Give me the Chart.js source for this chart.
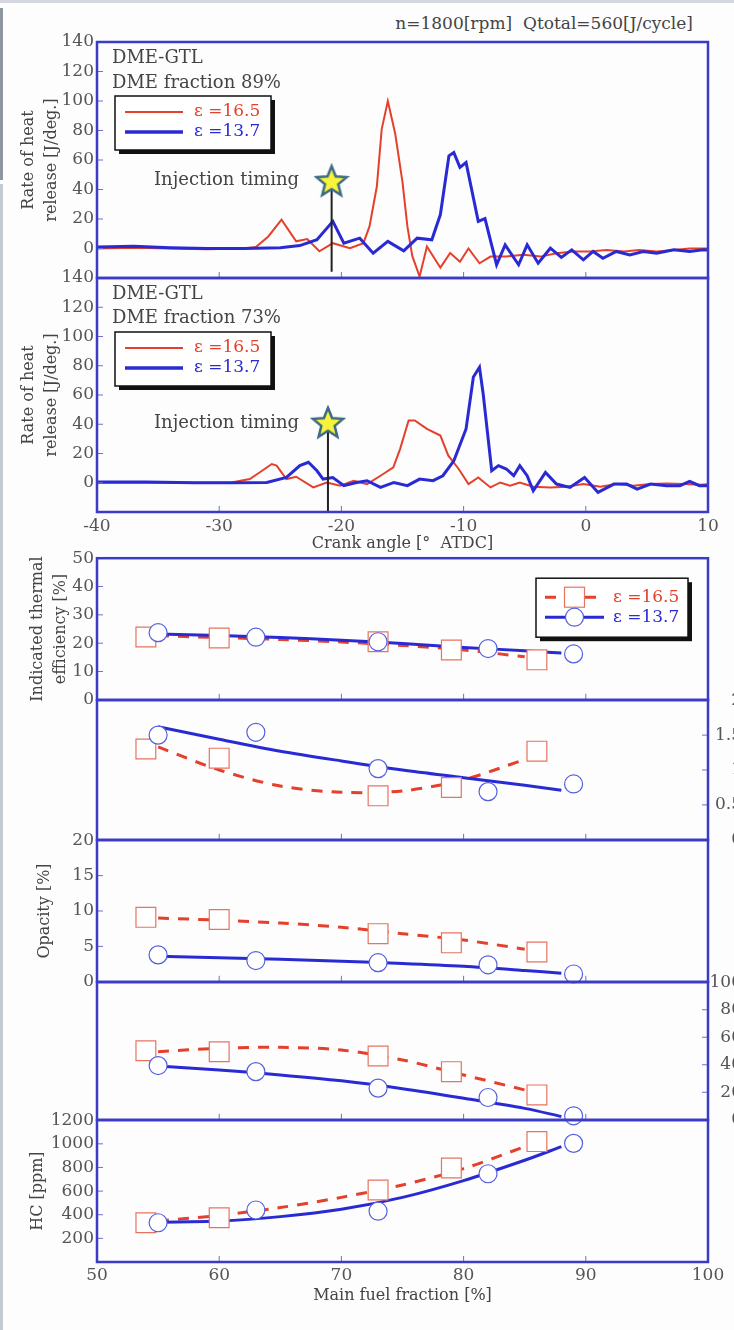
<!DOCTYPE html>
<html>
<head>
<meta charset="utf-8">
<title>DME-GTL heat release and emissions</title>
<script src="https://cdn.jsdelivr.net/npm/chart.js@4.4.1/dist/chart.umd.min.js"></script>
<style>
  html, body { margin: 0; padding: 0; }
  body { width: 734px; height: 1330px; overflow: hidden; position: relative; background: #fdfdfd; font-family: 'DejaVu Serif', serif; }
  canvas { position: absolute; left: 0; }
  #head { position: absolute; top: 13px; right: 41px; font-size: 17px; color: #444; white-space: pre; }
  .edge { position: absolute; left: 0; width: 3px; }
</style>
</head>
<body>
<div class="edge" style="top:8px;height:172px;background:#8e979f"></div>
<div class="edge" style="top:184px;height:1146px;background:#c3cad1"></div>
<div style="position:absolute;left:0;top:0;width:734px;height:3px;background:#d3d9df"></div>
<div id="head">n=1800[rpm]  Qtotal=560[J/cycle]</div>

<script>
// heat release, DME fraction 89 %
const crank89Red = [-40,-37,-34,-31,-28,-27,-26,-24.9,-23.7,-22.8,-21.8,-20.7,-19.3,-18.2,-17.7,-17.1,-16.7,-16.2,-15.6,-15.0,-14.6,-14.2,-13.6,-13.0,-11.9,-11.1,-10.3,-9.6,-8.7,-7.8,-6.5,-5.1,-3.7,-2.4,-1.0,0.3,1.7,3.1,4.4,5.8,7.2,8.5,10];
const hrr89Red   = [0,0.5,0,-0.5,0,1,8,19.6,4.9,6.4,-1.9,3.6,0.2,3.6,15,42,81,100,78,45,15,-5,-19,1.4,-13,-3,-9,0,-10,-5.5,-5.5,-4.3,-5.5,-3.2,-2,-2,-1,-2,-1,-2,-1,0,0];
const crank89Blue = [-40,-37,-34,-31,-28,-25,-23.4,-22,-20.7,-19.8,-18.5,-17.4,-16.2,-14.9,-13.8,-12.6,-11.9,-11.2,-10.8,-10.3,-9.8,-8.8,-8.25,-7.3,-6.6,-5.5,-4.8,-3.9,-2.9,-2.0,-1.15,-0.2,0.6,1.4,2.5,3.6,4.7,5.8,7.2,8.5,9.6,10];
const hrr89Blue   = [1,1.5,0.5,0,0,0.5,2,6,18.4,3.6,7,-3.2,4.8,-1.6,7,5.9,23,62.8,65,55,58.3,18.4,20.3,-11,2.5,-11,2.5,-10,0.2,-6,-0.9,-7.7,-2,-6.6,-2,-4.3,-2,-3.2,-0.9,-2,-0.9,-1];

// heat release, DME fraction 73 %
const crank73Red = [-40,-36,-32,-29,-27.5,-26.7,-25.7,-25.3,-24.5,-23.7,-22.3,-21.2,-20.1,-19.0,-17.9,-16.8,-15.75,-15.2,-14.5,-14.0,-13.0,-11.9,-11.25,-10.4,-9.6,-8.8,-7.8,-7.0,-6.2,-5.4,-4.3,-2.9,-1.6,-0.2,1.2,2.5,3.9,5.3,6.6,8.0,9.3,10];
const hrr73Red   = [0,0,0,0.2,2.5,7,12.8,11.7,2.5,4.1,-3.2,0.2,-2,1.4,-0.9,4.8,10.5,23,42.6,42.6,36.8,32.3,18.5,9.4,-0.9,3.6,-3.2,0.2,-2,0.2,-2.7,-3.2,-2.7,-0.9,-2.7,-0.9,-2,-0.9,-0.5,-0.9,-1.4,-1];
const crank73Blue = [-40,-36,-32,-29,-26.1,-24.5,-23.4,-22.7,-22.0,-21.5,-20.7,-19.8,-18.75,-17.9,-16.8,-15.7,-14.6,-13.6,-12.5,-11.7,-10.8,-9.8,-9.2,-8.7,-8.4,-7.7,-7.15,-6.5,-5.9,-5.4,-4.8,-4.3,-3.3,-2.4,-1.3,-0.1,1.0,2.3,3.35,4.2,5.3,6.6,7.7,8.5,9.3,10];
const hrr73Blue   = [0.5,0.5,0,0,0.2,3.6,11.7,14,8.2,2.5,3.6,-2,0.2,1.4,-3.2,0.2,-2,2.5,1.4,4.8,15,36.8,72.3,79,60.9,8.2,11.7,9.4,4.8,11.7,4.8,-5.5,7,-0.9,-3.2,3.6,-6.6,-0.9,-0.9,-4.3,-0.9,-2,-2,0.9,-2,-2];

// injection timing marks [crank angle, star height, foot of line]
const injection89 = [-20.8, 45.7, -15.7];
const injection73 = [-21.1, 41, -20];

const crankTicks = [-30, -20, -10, 0];
const fuelTicks = [60, 70, 80, 90];

// main fuel fraction sweep, measured points
const fuelRed  = [54, 60, 73, 79, 86];
const fuelBlue = [55, 63, 73, 82, 89];
const effRed   = [22.2, 21.8, 20.5, 17.6, 14.1];
const effBlue  = [23.7, 22.1, 20.5, 18.1, 16.2];
const rightARed  = [1.30, 1.17, 0.63, 0.75, 1.27];
const rightABlue = [1.50, 1.54, 1.02, 0.69, 0.80];
const opacityRed  = [9.1, 8.8, 6.8, 5.5, 4.2];
const opacityBlue = [3.8, 3.0, 2.7, 2.4, 1.1];
const rightBRed  = [50.2, 49.5, 46.4, 35.0, 18.1];
const rightBBlue = [39.4, 35.0, 23.0, 16.2, 2.9];
const hcRed  = [332, 375, 609, 796, 1019];
const hcBlue = [332, 440, 430, 747, 1004];

// trend curves
const fitXRed  = [55, 60, 65, 70, 75, 80, 85];
const fitXBlue = [55, 60, 65, 70, 75, 80, 85, 88];
const effFitRed   = [22.6, 22.0, 21.3, 20.4, 19.2, 17.6, 15.2];
const effFitBlue  = [23.2, 22.7, 22.0, 21.0, 19.9, 18.5, 17.3, 16.5];
const rightAFitRed  = [1.33, 1.00, 0.77, 0.68, 0.70, 0.86, 1.15];
const rightAFitBlue = [1.62, 1.44, 1.27, 1.13, 1.00, 0.89, 0.78, 0.71];
const opacityFitRed  = [9.0, 8.7, 8.3, 7.7, 6.8, 5.9, 4.6];
const opacityFitBlue = [3.6, 3.4, 3.2, 2.9, 2.6, 2.2, 1.6, 1.2];
const rightBFitRed  = [49.5, 52, 52.7, 50.7, 43.5, 32.6, 21.7];
const rightBFitBlue = [39.1, 36.2, 32.6, 28.3, 22.6, 15.7, 8.3, 2.4];
const hcFitRed  = [346, 395, 461, 547, 652, 790, 976];
const hcFitBlue = [337, 346, 384, 446, 547, 689, 861, 976];

const RED = '#e4402b', BLUE = '#2a2ad4', FRAME = '#3b3bc6', TXT = '#444';
const MARK_RED = '#e8735f', MARK_BLUE = '#5560de';
const SERIF = "'DejaVu Serif', serif";
const EPS_RED = 'ε =16.5', EPS_BLUE = 'ε =13.7';

Chart.defaults.font.family = SERIF;

const pts = (xs, ys) => xs.map((x, i) => ({ x: x, y: ys[i] }));

function starImage() {
  const c = document.createElement('canvas');
  c.width = 36; c.height = 36;
  const g = c.getContext('2d');
  g.beginPath();
  for (let i = 0; i < 10; i++) {
    const r = i % 2 ? 7 : 16, a = -Math.PI / 2 + i * Math.PI / 5;
    g.lineTo(18 + r * Math.cos(a), 19 + r * Math.sin(a));
  }
  g.closePath();
  g.fillStyle = '#f7f23a';
  g.fill();
  g.lineWidth = 2.5;
  g.strokeStyle = '#3d6b86';
  g.stroke();
  return c;
}
const star = starImage();

function drawMarker(ctx, kind, x, y) {
  ctx.setLineDash([]);
  ctx.lineWidth = 1.2;
  ctx.fillStyle = '#fff';
  if (kind === 'rect') {
    ctx.strokeStyle = MARK_RED;
    ctx.fillRect(x - 10, y - 10, 20, 20);
    ctx.strokeRect(x - 10, y - 10, 20, 20);
  } else {
    ctx.strokeStyle = MARK_BLUE;
    ctx.beginPath();
    ctx.arc(x, y, 9, 0, Math.PI * 2);
    ctx.fill();
    ctx.stroke();
  }
}

// frame, inward ticks, notes and legend boxes
const deco = {
  id: 'deco',
  afterDatasetsDraw(chart, args, o) {
    const ctx = chart.ctx, a = chart.chartArea, top = chart.$pageTop || 0;
    const xs = chart.scales.x, ys = chart.scales.y;
    ctx.save();
    ctx.lineWidth = 1;
    ctx.strokeStyle = '#6f6fd2';
    ctx.beginPath();
    (o.xTicks || []).forEach(v => {
      const p = xs.getPixelForValue(v);
      ctx.moveTo(p, a.bottom);
      ctx.lineTo(p, a.bottom - 6);
    });
    ys.ticks.forEach(t => {
      const p = ys.getPixelForValue(t.value);
      if (p <= a.top + 1 || p >= a.bottom - 1) return;
      if (ys.position === 'right') { ctx.moveTo(a.right, p); ctx.lineTo(a.right - 6, p); }
      else { ctx.moveTo(a.left, p); ctx.lineTo(a.left + 6, p); }
    });
    ctx.stroke();

    ctx.strokeStyle = FRAME;
    ctx.lineWidth = 2.5;
    ctx.strokeRect(a.left, a.top, a.right - a.left, a.bottom - a.top);

    ctx.textBaseline = 'middle';
    ctx.textAlign = 'left';
    (o.notes || []).forEach(n => {
      ctx.fillStyle = TXT;
      ctx.font = '18px ' + SERIF;
      ctx.fillText(n.text, n.x, n.y - top);
    });

    const b = o.box;
    if (b) {
      const y0 = b.y - top;
      ctx.fillStyle = '#111';
      ctx.fillRect(b.x + 4, y0 + 4, b.w, b.h);
      ctx.fillStyle = '#fff';
      ctx.fillRect(b.x, y0, b.w, b.h);
      ctx.strokeStyle = '#111';
      ctx.lineWidth = 1.5;
      ctx.strokeRect(b.x, y0, b.w, b.h);
      b.rows.forEach(r => {
        const ry = r.y - top;
        ctx.strokeStyle = r.color;
        ctx.lineWidth = r.width;
        ctx.setLineDash(r.dash || []);
        ctx.beginPath();
        ctx.moveTo(b.lineX[0], ry);
        ctx.lineTo(b.lineX[1], ry);
        ctx.stroke();
        if (r.marker) drawMarker(ctx, r.marker, (b.lineX[0] + b.lineX[1]) / 2, ry);
        ctx.setLineDash([]);
        ctx.fillStyle = r.color;
        ctx.font = '17px ' + SERIF;
        ctx.fillText(r.label, b.textX, ry);
      });
    }
    ctx.restore();
  }
};
Chart.register(deco);

function finish(config) {
  config.options.responsive = false;
  config.options.animation = false;
  config.options.devicePixelRatio = 1;
  config.options.plugins.legend = { display: false };
  config.options.plugins.tooltip = { enabled: false };
  return config;
}

// build once to measure the insets, then size the canvas so the plot box
// lands on plotTop..plotBottom of the page
function makePanel(plotTop, plotBottom, build) {
  const probe = document.createElement('canvas');
  probe.width = 760;
  probe.height = plotBottom - plotTop + 100;
  probe.style.visibility = 'hidden';
  document.body.appendChild(probe);
  const tmp = new Chart(probe, finish(build()));
  const t0 = tmp.chartArea.top, b0 = probe.height - tmp.chartArea.bottom;
  tmp.destroy();
  probe.remove();

  const cv = document.createElement('canvas');
  cv.width = 760;
  cv.height = Math.round(t0 + (plotBottom - plotTop) + b0);
  cv.style.top = (plotTop - t0) + 'px';
  document.body.appendChild(cv);
  const chart = new Chart(cv, finish(build()));
  chart.$pageTop = plotTop - t0;
  chart.draw();
  return chart;
}

const tickFont = { family: SERIF, size: 17 };

function leftAxis(min, max, step, title, titlePad, hideBelow) {
  return {
    position: 'left', min: min, max: max,
    grid: { display: false, drawTicks: false }, border: { display: false },
    ticks: { stepSize: step, color: '#555', font: tickFont, padding: 3,
      callback: v => (hideBelow !== undefined && v <= hideBelow) ? '' : String(v) },
    title: { display: true, text: title, color: TXT,
      font: { family: SERIF, size: 16, lineHeight: 1.45 }, padding: { top: titlePad } },
    afterFit: s => { s.width = 97; }
  };
}

// right axis labels are right-aligned at x = 742, so the page edge clips them
function rightAxis(min, max, step) {
  return {
    position: 'right', min: min, max: max,
    grid: { display: false, drawTicks: false }, border: { display: false },
    ticks: { stepSize: step, color: '#555', font: tickFont, padding: 4, crossAlign: 'far',
      autoSkip: false, callback: v => String(v) },
    afterFit: s => { s.width = 34; }
  };
}

function xAxis(min, max, shown, title, pad, height) {
  const ax = {
    type: 'linear', min: min, max: max, display: shown,
    grid: { display: false, drawTicks: false }, border: { display: false },
    ticks: { stepSize: 10, color: '#555', font: tickFont, padding: pad, maxRotation: 0 }
  };
  if (shown) {
    ax.title = { display: true, text: title, color: TXT, font: { family: SERIF, size: 16 }, padding: 0 };
    ax.afterFit = s => { s.height = height; };
  }
  return ax;
}

function hrrDatasets(cr, hr, cb, hb, inj) {
  return [
    { data: [{ x: inj[0], y: inj[1] }], showLine: false, pointStyle: star, pointRadius: 16, order: 0 },
    { data: [{ x: inj[0], y: inj[1] }, { x: inj[0], y: inj[2] }], borderColor: '#222', borderWidth: 2, pointRadius: 0, order: 1 },
    { label: EPS_RED, data: pts(cr, hr), borderColor: RED, borderWidth: 2, pointRadius: 0, tension: 0, order: 3 },
    { label: EPS_BLUE, data: pts(cb, hb), borderColor: BLUE, borderWidth: 3, pointRadius: 0, tension: 0, order: 2 }
  ];
}

function hrrBox(y) {
  return {
    x: 115, y: y, w: 156, h: 54, lineX: [125, 183], textX: 194,
    rows: [
      { y: y + 16, color: RED, width: 2, label: EPS_RED },
      { y: y + 36, color: BLUE, width: 3.5, label: EPS_BLUE }
    ]
  };
}

// panel 1: DME fraction 89 %
makePanel(42, 278, () => ({
  type: 'line',
  data: { datasets: hrrDatasets(crank89Red, hrr89Red, crank89Blue, hrr89Blue, injection89) },
  options: {
    layout: { padding: { top: 4, bottom: 2, right: 52, left: 0 } },
    scales: { x: xAxis(-40, 10, false), y: leftAxis(-20, 140, 20, ['Rate of heat', 'release [J/deg.]'], 17, -1) },
    plugins: { deco: {
      xTicks: crankTicks,
      notes: [
        { text: 'DME-GTL', x: 112, y: 58 },
        { text: 'DME fraction 89%', x: 112, y: 83 },
        { text: 'Injection timing', x: 154, y: 180 }
      ],
      box: hrrBox(96)
    } }
  }
}));

// panel 2: DME fraction 73 %
makePanel(278, 512, () => ({
  type: 'line',
  data: { datasets: hrrDatasets(crank73Red, hrr73Red, crank73Blue, hrr73Blue, injection73) },
  options: {
    layout: { padding: { top: 4, bottom: 0, right: 52, left: 0 } },
    scales: {
      x: xAxis(-40, 10, true, 'Crank angle [°  ATDC]', 4, 41),
      y: leftAxis(-20, 140, 20, ['Rate of heat', 'release [J/deg.]'], 17, -1)
    },
    plugins: { deco: {
      xTicks: crankTicks,
      notes: [
        { text: 'DME-GTL', x: 112, y: 294 },
        { text: 'DME fraction 73%', x: 112, y: 318 },
        { text: 'Injection timing', x: 154, y: 423 }
      ],
      box: hrrBox(332)
    } }
  }
}));

function sweepDatasets(red, blue, fitRed, fitBlue) {
  return [
    { label: EPS_RED, data: pts(fuelRed, red), showLine: false, pointStyle: 'rect', pointRadius: 14,
      borderColor: MARK_RED, borderWidth: 1.2, backgroundColor: '#fff', clip: false, order: 1 },
    { label: EPS_BLUE, data: pts(fuelBlue, blue), showLine: false, pointStyle: 'circle', pointRadius: 9,
      borderColor: MARK_BLUE, borderWidth: 1.2, backgroundColor: '#fff', clip: false, order: 0 },
    { data: pts(fitXRed, fitRed), borderColor: RED, borderWidth: 3, borderDash: [11, 9], pointRadius: 0, tension: 0.3, order: 3 },
    { data: pts(fitXBlue, fitBlue), borderColor: BLUE, borderWidth: 3, pointRadius: 0, tension: 0.3, order: 2 }
  ];
}

function sweepPanel(plotTop, plotBottom, yAxis, red, blue, fitRed, fitBlue, extra) {
  makePanel(plotTop, plotBottom, () => {
    const y = yAxis();
    const right = y.position === 'right';
    const withX = !!extra.xTitle;
    return {
      type: 'line',
      data: { datasets: sweepDatasets(red, blue, fitRed, fitBlue) },
      options: {
        layout: { padding: { top: 4, bottom: withX ? 0 : 4, right: right ? 18 : 52, left: right ? 97 : 0 } },
        scales: { x: xAxis(50, 100, withX, extra.xTitle, 3, 43), y: y },
        plugins: { deco: { xTicks: fuelTicks, box: extra.box } }
      }
    };
  });
}

const sweepBox = {
  x: 536, y: 578, w: 152, h: 59, lineX: [545, 604], textX: 613,
  rows: [
    { y: 597, color: RED, width: 3, dash: [11, 9], marker: 'rect', label: EPS_RED },
    { y: 617, color: BLUE, width: 3, marker: 'circle', label: EPS_BLUE }
  ]
};

sweepPanel(558, 700, () => leftAxis(0, 50, 10, ['Indicated thermal', 'efficiency [%]'], 26),
  effRed, effBlue, effFitRed, effFitBlue, { box: sweepBox });
sweepPanel(700, 840, () => rightAxis(0, 2, 0.5),
  rightARed, rightABlue, rightAFitRed, rightAFitBlue, {});
sweepPanel(840, 982, () => leftAxis(0, 20, 5, 'Opacity [%]', 33),
  opacityRed, opacityBlue, opacityFitRed, opacityFitBlue, {});
sweepPanel(982, 1120, () => rightAxis(0, 100, 20),
  rightBRed, rightBBlue, rightBFitRed, rightBFitBlue, {});
sweepPanel(1120, 1262, () => leftAxis(0, 1200, 200, 'HC [ppm]', 26, 0),
  hcRed, hcBlue, hcFitRed, hcFitBlue, { xTitle: 'Main fuel fraction [%]' });
</script>
</body>
</html>
